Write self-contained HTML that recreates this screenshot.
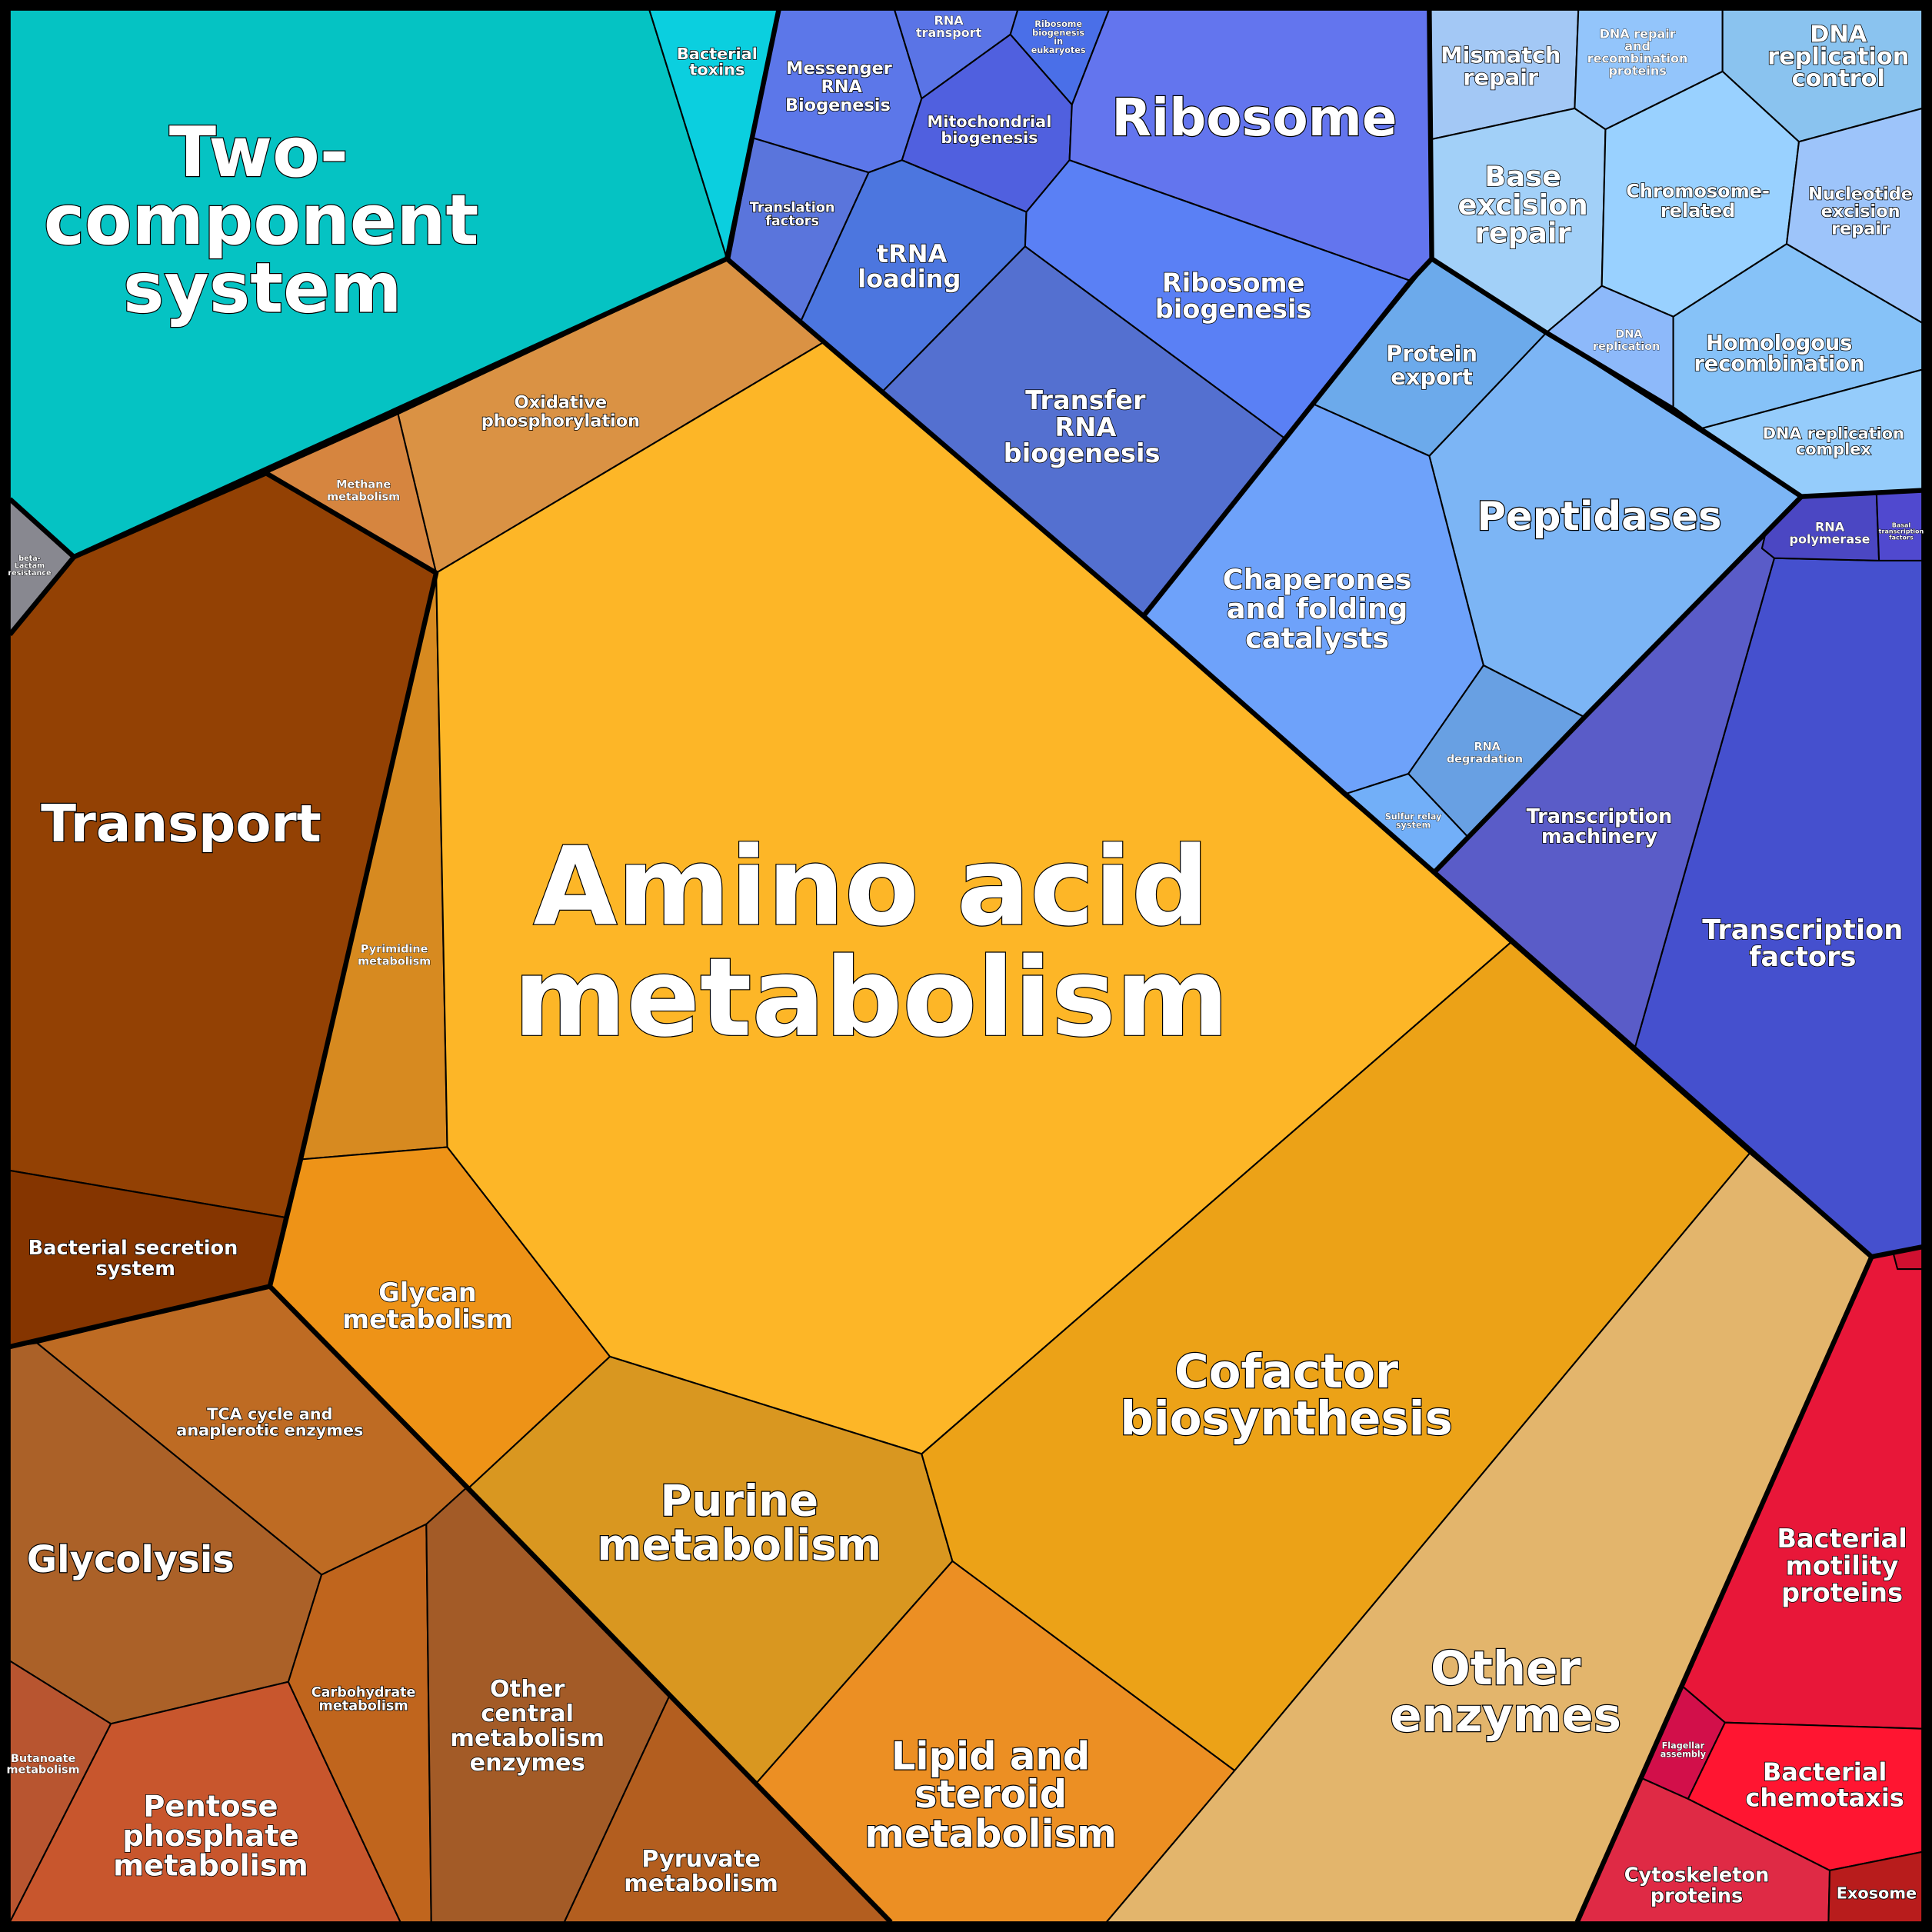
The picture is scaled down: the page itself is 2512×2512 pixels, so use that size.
<!DOCTYPE html>
<html><head><meta charset="utf-8"><style>
html,body{margin:0;padding:0;background:#000}
svg{display:block}
text{font-family:"DejaVu Sans","Liberation Sans",sans-serif;font-weight:bold;fill:#fff;stroke:#000;paint-order:stroke;text-anchor:middle}
polygon{stroke:#000;stroke-width:1.3;stroke-linejoin:round}
.g{fill:none;stroke:#000;stroke-width:4;stroke-linejoin:round}
</style></head><body>
<svg width="2512" height="2512" viewBox="0 0 1568 1568" xmlns="http://www.w3.org/2000/svg">
<rect x="0" y="0" width="1568" height="1568" fill="#000"/>
<g>
<polygon fill="#05C3C3" points="8,8 527,8 590,210 60,452 8,405"/>
<polygon fill="#0BCFDF" points="527,8 632,8 590,210"/>
<polygon fill="#5C77E9" points="632,8 726,8 748,80 732,130 705,140 611,112"/>
<polygon fill="#5A74E6" points="726,8 826,8 820,28 748,80"/>
<polygon fill="#4A6FE8" points="826,8 900,8 870,85 820,28"/>
<polygon fill="#5060DF" points="748,80 820,28 870,85 868,130 833,172 732,130"/>
<polygon fill="#6375EE" points="900,8 1160,8 1162,210 1145,228 868,130 870,85"/>
<polygon fill="#5A75DC" points="611,112 705,140 648,265 592,210"/>
<polygon fill="#4C76DF" points="705,140 732,130 833,172 832,200 716,318 648,265"/>
<polygon fill="#5A80F5" points="868,130 1145,228 1043,356 832,200 833,172"/>
<polygon fill="#5470D0" points="832,200 1043,356 928,500 716,318"/>
<polygon fill="#DA9244" points="323,336 590,210 668,278 354,465"/>
<polygon fill="#D6853F" points="216,384 323,336 354,465"/>
<polygon fill="#888890" points="8,405 60,452 8,515"/>
<polygon fill="#934104" points="60,452 216,384 354,465 244,941 231,988 8,950 8,515"/>
<polygon fill="#853500" points="8,950 231,988 219,1044 8,1093"/>
<polygon fill="#D78A20" points="354,465 363,931 244,941"/>
<polygon fill="#FDB627" points="354,465 668,278 928,500 1226,765 748,1180 495,1101 363,931"/>
<polygon fill="#EE9317" points="244,941 363,931 495,1101 380,1208 219,1044"/>
<polygon fill="#BE6B23" points="30,1090 219,1044 378,1208 346,1237 261,1278"/>
<polygon fill="#AB6128" points="8,1093 30,1090 261,1278 234,1365 90,1399 8,1348"/>
<polygon fill="#B85530" points="8,1348 90,1399 8,1560"/>
<polygon fill="#C8562D" points="90,1399 234,1365 325,1560 8,1560"/>
<polygon fill="#C0651D" points="261,1278 346,1237 350,1560 325,1560 234,1365"/>
<polygon fill="#A35B27" points="346,1237 378,1208 543,1377 458,1560 350,1560"/>
<polygon fill="#B35E1F" points="543,1377 723,1560 458,1560"/>
<polygon fill="#D99720" points="380,1208 495,1101 748,1180 773,1267 614,1447"/>
<polygon fill="#ECA217" points="748,1180 1226,765 1420,936 1002,1437 773,1267"/>
<polygon fill="#EC8F23" points="614,1447 773,1267 1002,1437 898,1560 723,1560"/>
<polygon fill="#E3B56C" points="1002,1437 1420,936 1519,1020 1280,1560 898,1560"/>
<polygon fill="#E81739" points="1519,1020 1560,1012 1560,1403 1400,1398 1366,1369"/>
<polygon fill="#D01030" points="1536,1015 1560,1012 1560,1030 1540,1030"/>
<polygon fill="#D20F4A" points="1366,1369 1400,1398 1370,1460 1332,1443"/>
<polygon fill="#FF1531" points="1400,1398 1560,1403 1560,1503 1485,1518 1370,1460"/>
<polygon fill="#DF2A45" points="1332,1443 1370,1460 1485,1518 1484,1560 1280,1560"/>
<polygon fill="#B81C1C" points="1485,1518 1560,1503 1560,1560 1484,1560"/>
<polygon fill="#4550CE" points="1327,850 1440,453 1525,455 1560,455 1560,1012 1519,1020"/>
<polygon fill="#5A5CC8" points="1164,708 1286,582 1462,403 1430,445 1440,453 1327,850 1226,765"/>
<polygon fill="#4B47C3" points="1430,445 1440,403 1523,401 1525,455 1440,453"/>
<polygon fill="#5049CF" points="1523,401 1560,398 1560,455 1525,455"/>
<polygon fill="#7CB5F5" points="1160,370 1255,270 1462,403 1286,582 1204,540"/>
<polygon fill="#6CAAEB" points="1066,328 1162,210 1255,270 1160,370"/>
<polygon fill="#6EA2FA" points="928,500 1043,356 1066,328 1160,370 1204,540 1143,628 1090,645"/>
<polygon fill="#68A0E3" points="1143,628 1204,540 1286,582 1192,680"/>
<polygon fill="#72AFF8" points="1090,645 1143,628 1192,680 1164,708"/>
<polygon fill="#A3C8F5" points="1160,8 1281,8 1278,88 1162,113"/>
<polygon fill="#93C5FB" points="1281,8 1398,8 1398,58 1303,105 1278,88"/>
<polygon fill="#8AC3EF" points="1398,8 1560,8 1560,88 1460,115 1398,58"/>
<polygon fill="#A2D0F8" points="1162,113 1278,88 1303,105 1300,232 1255,270 1162,210"/>
<polygon fill="#99D1FF" points="1303,105 1398,58 1460,115 1450,198 1358,257 1300,232"/>
<polygon fill="#9DC4FA" points="1460,115 1560,88 1560,262 1450,198"/>
<polygon fill="#8DB9FA" points="1255,270 1300,232 1358,257 1358,332"/>
<polygon fill="#86C2F8" points="1358,257 1450,198 1560,262 1560,300 1380,348 1358,332"/>
<polygon fill="#95CCFB" points="1380,348 1560,300 1560,398 1462,403"/>
</g>
<polyline class="g" points="8,405 60,452 590,210 632,8"/>
<polyline class="g" points="590,210 928,500 1164,708 1519,1020 1560,1012"/>
<polyline class="g" points="1160,8 1162,210 1145,228 1043,356 928,500"/>
<polyline class="g" points="1162,210 1255,270 1358,332 1380,348 1462,403 1560,398"/>
<polyline class="g" points="1462,403 1286,582 1164,708"/>
<polyline class="g" points="1519,1020 1280,1560"/>
<polyline class="g" points="60,452 216,384 354,465 244,941 219,1044 380,1208 723,1560"/>
<polyline class="g" points="8,1093 219,1044"/>
<polyline class="g" points="8,515 60,452"/>
<rect x="4" y="4" width="1560" height="1560" fill="none" stroke="#000" stroke-width="8"/>

<g stroke-width="1.5">
<text x="210" y="143" font-size="56">Two-</text>
<text x="212" y="198" font-size="56">component</text>
<text x="213" y="253" font-size="56">system</text>
<text x="707" y="750" font-size="88">Amino acid</text>
<text x="707" y="840" font-size="88">metabolism</text>
<text x="1018" y="110" font-size="42">Ribosome</text>
<text x="147" y="683" font-size="42">Transport</text>
<text x="1044" y="1126" font-size="38">Cofactor</text>
<text x="1044" y="1164" font-size="38">biosynthesis</text>
<text x="1222" y="1367" font-size="38">Other</text>
<text x="1222" y="1405" font-size="38">enzymes</text>
<text x="600" y="1230" font-size="35">Purine</text>
<text x="600" y="1266" font-size="35">metabolism</text>
<text x="804" y="1436" font-size="31">Lipid and</text>
<text x="804" y="1467" font-size="31">steroid</text>
<text x="804" y="1499" font-size="31">metabolism</text>
<text x="1298" y="430" font-size="32">Peptidases</text>
<text x="106" y="1276" font-size="30">Glycolysis</text>
</g>
<g stroke-width="1">
<text x="171" y="1474" font-size="24">Pentose</text>
<text x="171" y="1498" font-size="24">phosphate</text>
<text x="171" y="1522" font-size="24">metabolism</text>
<text x="1069" y="478" font-size="23">Chaperones</text>
<text x="1069" y="502" font-size="23">and folding</text>
<text x="1069" y="526" font-size="23">catalysts</text>
<text x="1463" y="762" font-size="22">Transcription</text>
<text x="1463" y="784" font-size="22">factors</text>
<text x="1495" y="1256" font-size="21">Bacterial</text>
<text x="1495" y="1278" font-size="21">motility</text>
<text x="1495" y="1300" font-size="21">proteins</text>
<text x="1481" y="1445" font-size="20">Bacterial</text>
<text x="1481" y="1466" font-size="20">chemotaxis</text>
<text x="881" y="332" font-size="21">Transfer</text>
<text x="881" y="354" font-size="21">RNA</text>
<text x="878" y="375" font-size="21">biogenesis</text>
<text x="1001" y="237" font-size="21">Ribosome</text>
<text x="1001" y="258" font-size="21">biogenesis</text>
<text x="1236" y="151" font-size="23">Base</text>
<text x="1236" y="174" font-size="23">excision</text>
<text x="1236" y="197" font-size="23">repair</text>
<text x="347" y="1056" font-size="21">Glycan</text>
<text x="347" y="1078" font-size="21">metabolism</text>
<text x="428" y="1377" font-size="19">Other</text>
<text x="428" y="1397" font-size="19">central</text>
<text x="428" y="1417" font-size="19">metabolism</text>
<text x="428" y="1437" font-size="19">enzymes</text>
<text x="740" y="213" font-size="20">tRNA</text>
<text x="738" y="233" font-size="20">loading</text>
<text x="1162" y="293" font-size="18">Protein</text>
<text x="1162" y="312" font-size="18">export</text>
<text x="1218" y="51" font-size="18">Mismatch</text>
<text x="1218" y="69" font-size="18">repair</text>
<text x="1492" y="34" font-size="19">DNA</text>
<text x="1492" y="52" font-size="19">replication</text>
<text x="1492" y="70" font-size="19">control</text>
<text x="1444" y="284" font-size="17">Homologous</text>
<text x="1444" y="301" font-size="17">recombination</text>
<text x="569" y="1515" font-size="19">Pyruvate</text>
<text x="569" y="1535" font-size="19">metabolism</text>
<text x="1298" y="668" font-size="16">Transcription</text>
<text x="1298" y="684" font-size="16">machinery</text>
<text x="1377" y="1527" font-size="16">Cytoskeleton</text>
<text x="1377" y="1544" font-size="16">proteins</text>
<text x="108" y="1018" font-size="16">Bacterial secretion</text>
<text x="110" y="1035" font-size="16">system</text>
<text x="1378" y="160" font-size="15">Chromosome-</text>
<text x="1378" y="176" font-size="15">related</text>
<text x="1510" y="162" font-size="14">Nucleotide</text>
<text x="1510" y="176" font-size="14">excision</text>
<text x="1510" y="190" font-size="14">repair</text>
<text x="681" y="60" font-size="14">Messenger</text>
<text x="683" y="75" font-size="14">RNA</text>
<text x="680" y="90" font-size="14">Biogenesis</text>
<text x="803" y="103" font-size="13">Mitochondrial</text>
<text x="803" y="116" font-size="13">biogenesis</text>
<text x="455" y="331" font-size="14">Oxidative</text>
<text x="455" y="346" font-size="14">phosphorylation</text>
<text x="219" y="1152" font-size="13">TCA cycle and</text>
<text x="219" y="1165" font-size="13">anaplerotic enzymes</text>
<text x="1488" y="356" font-size="13">DNA replication</text>
<text x="1488" y="369" font-size="13">complex</text>
<text x="1523" y="1541" font-size="13">Exosome</text>
<text x="582" y="48" font-size="13">Bacterial</text>
<text x="582" y="61" font-size="13">toxins</text>
<text x="643" y="172" font-size="11">Translation</text>
<text x="643" y="183" font-size="11">factors</text>
<text x="295" y="1377" font-size="11">Carbohydrate</text>
<text x="295" y="1388" font-size="11">metabolism</text>
</g>
<g stroke-width="0.5">
<text x="770" y="20" font-size="10">RNA</text>
<text x="770" y="30" font-size="10">transport</text>
<text x="1329" y="31" font-size="10">DNA repair</text>
<text x="1329" y="41" font-size="10">and</text>
<text x="1329" y="51" font-size="10">recombination</text>
<text x="1329" y="61" font-size="10">proteins</text>
<text x="1322" y="274" font-size="9">DNA</text>
<text x="1320" y="284" font-size="9">replication</text>
<text x="1485" y="431" font-size="10">RNA</text>
<text x="1485" y="441" font-size="10">polymerase</text>
<text x="1207" y="609" font-size="9">RNA</text>
<text x="1205" y="619" font-size="9">degradation</text>
<text x="295" y="396" font-size="9">Methane</text>
<text x="295" y="406" font-size="9">metabolism</text>
<text x="320" y="773" font-size="9">Pyrimidine</text>
<text x="320" y="783" font-size="9">metabolism</text>
<text x="35" y="1430" font-size="9">Butanoate</text>
<text x="35" y="1439" font-size="9">metabolism</text>
<text x="1366" y="1419" font-size="7">Flagellar</text>
<text x="1366" y="1426" font-size="7">assembly</text>
<text x="1147" y="665" font-size="7">Sulfur relay</text>
<text x="1147" y="672" font-size="7">system</text>
<text x="859" y="22" font-size="7">Ribosome</text>
<text x="859" y="29" font-size="7">biogenesis</text>
<text x="859" y="36" font-size="7">in</text>
<text x="859" y="43" font-size="7">eukaryotes</text>
<text x="24" y="455" font-size="6">beta-</text>
<text x="24" y="461" font-size="6">Lactam</text>
<text x="24" y="467" font-size="6">resistance</text>
<text x="1543" y="428" font-size="5">Basal</text>
<text x="1543" y="433" font-size="5">transcription</text>
<text x="1543" y="438" font-size="5">factors</text>
</g>
</svg>
</body></html>
